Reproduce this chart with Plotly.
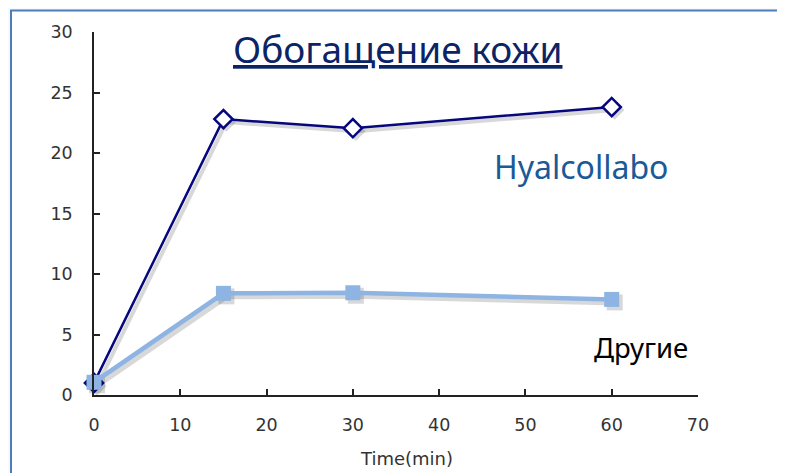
import plotly.graph_objects as go

# ---- data ----
time_min = [0, 15, 30, 60]
hyalcollabo = [1.0, 22.8, 22.05, 23.8]
others = [1.05, 8.4, 8.45, 7.9]
x_ticks = [0, 10, 20, 30, 40, 50, 60, 70]
y_ticks = [0, 5, 10, 15, 20, 25, 30]
title_text = "Обогащение кожи"
label_hyal = "Hyalcollabo"
label_other = "Другие"
x_title = "Time(min)"

OFF = 8  # page body margin
W, H = 785 - OFF, 473 - OFF
L, R, T, B = 94 - OFF, 84, 32 - OFF, 75
PW, PH = W - L - R, H - T - B
SH = 3  # shadow offset px

NAVY = "#06067f"
LIGHT = "#8db4e2"
SHADOW = "rgba(60,60,60,0.2)"

fig = go.Figure()

# shadow traces on hidden, slightly offset axes (subplot xy drawn first -> underneath)
fig.add_trace(go.Scatter(x=time_min, y=others, mode="lines+markers", xaxis="x", yaxis="y",
                         line=dict(color=SHADOW, width=6),
                         marker=dict(symbol="square", size=16, color=SHADOW),
                         cliponaxis=False, hoverinfo="skip", showlegend=False))
fig.add_trace(go.Scatter(x=time_min, y=hyalcollabo, mode="lines+markers", xaxis="x", yaxis="y",
                         line=dict(color=SHADOW, width=4),
                         marker=dict(symbol="diamond", size=15, color=SHADOW),
                         cliponaxis=False, hoverinfo="skip", showlegend=False))

# main traces on the visible axes
fig.add_trace(go.Scatter(x=time_min, y=hyalcollabo, mode="lines+markers", name=label_hyal,
                         xaxis="x2", yaxis="y2",
                         line=dict(color=NAVY, width=2.5),
                         marker=dict(symbol="diamond", size=14, color="white",
                                     line=dict(color=NAVY, width=2.5)),
                         cliponaxis=False, showlegend=False))
fig.add_trace(go.Scatter(x=time_min, y=others, mode="lines+markers", name=label_other,
                         xaxis="x2", yaxis="y2",
                         line=dict(color=LIGHT, width=4.5),
                         marker=dict(symbol="square", size=15, color=LIGHT),
                         cliponaxis=False, showlegend=False))

tick_font = dict(family="DejaVu Sans", size=17.5, color="#333333")
ax_common = dict(showgrid=False, zeroline=False, showline=True, linecolor="#222222",
                 linewidth=1.5, ticks="inside", ticklen=6, tickcolor="#222222",
                 tickwidth=1.5, tickfont=tick_font)

fig.update_layout(
    width=W, height=H,
    margin=dict(l=L, r=R, t=T, b=B),
    paper_bgcolor="#f7f9fd",
    plot_bgcolor="rgba(0,0,0,0)",
    xaxis=dict(range=[0, 70], domain=[SH / PW, 1], anchor="y", visible=False),
    yaxis=dict(range=[0, 30], domain=[0, (PH - SH) / PH], anchor="x", visible=False),
    xaxis2=dict(range=[0, 70], tickvals=x_ticks, domain=[0, (PW - SH) / PW],
                anchor="y2", ticklabelstandoff=13, **ax_common),
    yaxis2=dict(range=[0, 30], tickvals=y_ticks, domain=[SH / PH, 1],
                anchor="x2", ticklabelstandoff=16, **ax_common),
)

# helpers: convert screen pixel positions (reference image) to paper coords
def px_x(px):
    return (px - OFF - L) / PW

def px_y(py):
    return (H - B - (py - OFF)) / PH

# frame
fig.add_shape(type="rect", xref="paper", yref="paper",
              x0=px_x(11), x1=px_x(820), y0=px_y(510), y1=px_y(10.5),
              line=dict(color="#4f7cb7", width=2), fillcolor="white", layer="below")

def label(text, x, y, family, size, color):
    fig.add_annotation(text=text, xref="paper", yref="paper", x=px_x(x), y=px_y(y),
                       xanchor="center", yanchor="middle", showarrow=False,
                       font=dict(family=family, size=size, color=color))

label("<u>" + title_text + "</u>", 398, 48, "Noto Sans", 37, "#0b2466")
label(label_hyal, 581, 166, "Noto Sans", 32, "#1a5a97")
label(label_other, 641, 347, "Noto Sans", 27.5, "#000000")
label(x_title, 406, 458, "DejaVu Sans", 18, "#333333")

fig.write_html("out.html")
